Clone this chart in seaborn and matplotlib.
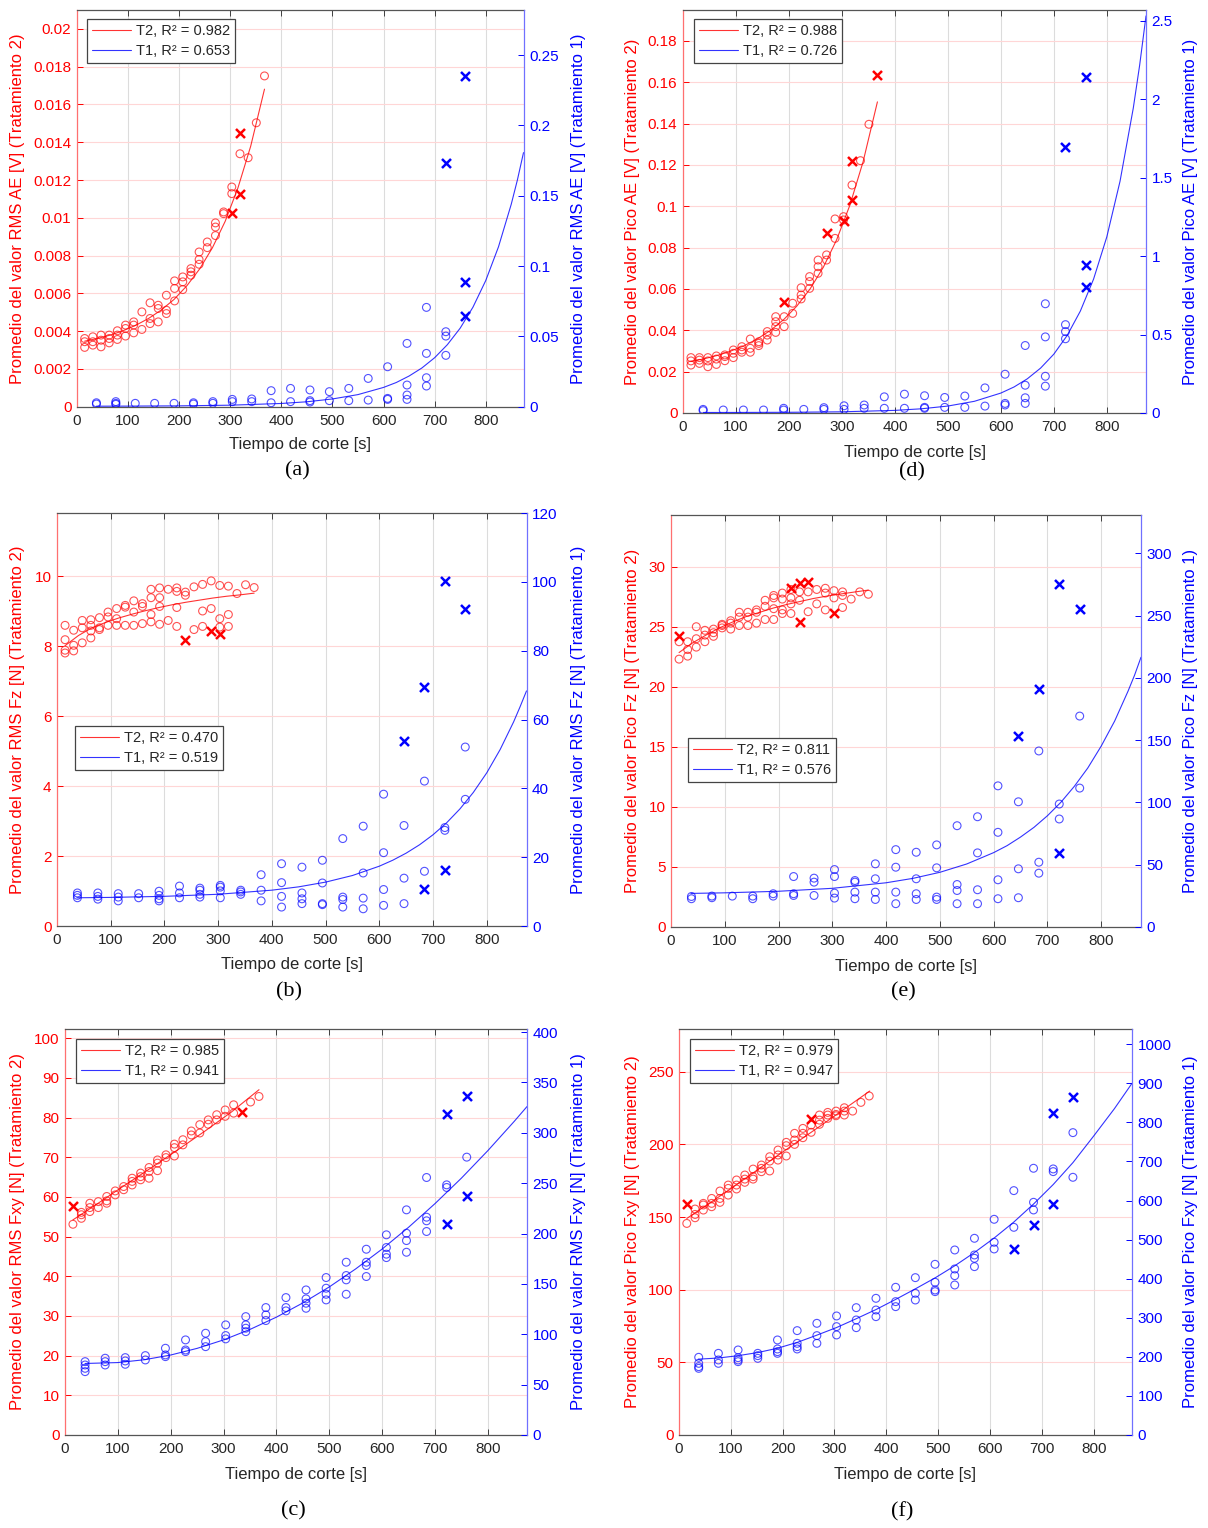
import numpy as np
import pandas as pd
import matplotlib
matplotlib.use("Agg")
import matplotlib.pyplot as plt
from matplotlib.ticker import FuncFormatter
import seaborn as sns

sns.set_style("white")
plt.rcParams["font.family"] = ["Liberation Sans", "DejaVu Sans"]

W, H = 1208, 1528
RED = "#ff0000"
BLUE = "#0000ff"
GRAY = "#404040"

# ---------------- sampling times ----------------
T2_TIMES = [15, 31, 47, 63, 79, 95, 111, 127, 143, 159, 175, 191, 207, 223, 239, 255, 271, 287, 303, 319, 335, 351, 367]
T1_TIMES = [38, 76, 114, 152, 190, 228, 266, 304, 342, 380, 418, 456, 494, 532, 570, 608, 646, 684, 722, 760]

# ---------------- (a) RMS AE ----------------
a_t2_vals = [[0.00361, 0.00344, 0.00314], [0.0037, 0.00344, 0.00326], [0.00379, 0.00352, 0.00317],
             [0.00379, 0.00361, 0.00338], [0.00402, 0.00379, 0.00356], [0.00432, 0.00414, 0.00374],
             [0.00449, 0.00432, 0.00391], [0.00502, 0.00409], [0.0055, 0.00467, 0.0044],
             [0.00537, 0.0052, 0.00449], [0.0059, 0.00511, 0.00493], [0.00666, 0.00626, 0.0056],
             [0.00687, 0.00661, 0.0062], [0.00731, 0.00714, 0.00696], [0.00819, 0.00779, 0.00754],
             [0.00872, 0.00842], [0.00973, 0.00951, 0.00906], [0.01031, 0.01022], [0.01163, 0.01128],
             [0.01339], [0.01318], [0.01503], [0.01751]]
a_t2_out_t = [303, 319, 319]
a_t2_out_v = [0.01025, 0.01448, 0.01128]
a_t1_vals = [[0.0028, 0.0019], [0.0036, 0.0024, 0.0017], [0.0024], [0.0024], [0.0024], [0.0028, 0.0019],
             [0.0036, 0.0024], [0.0052, 0.0036], [0.0055, 0.0036], [0.0114, 0.0028], [0.013, 0.0036],
             [0.0119, 0.0043, 0.0033], [0.0107, 0.0043], [0.013, 0.0043], [0.0201, 0.0047],
             [0.0284, 0.0059, 0.0052], [0.045, 0.0154, 0.0083, 0.0052], [0.0706, 0.0379, 0.0206, 0.0147],
             [0.0533, 0.0502, 0.0365], []]
a_t1_out_t = [722, 760, 760, 760]
a_t1_out_v = [0.1735, 0.2353, 0.0889, 0.0645]
a_t2_fit_t = [15, 40, 65, 90, 115, 140, 165, 190, 215, 240, 265, 290, 315, 340, 367]
a_t2_fit_v = [0.00347, 0.00361, 0.00379, 0.00402, 0.00431, 0.00467, 0.00512, 0.00568, 0.00640,
              0.00729, 0.00841, 0.00981, 0.01158, 0.01379, 0.01681]
a_t1_fit_t = [38, 100, 200, 300, 400, 450, 500, 550, 600, 625, 650, 675, 700, 725, 750, 775, 800,
              825, 850, 862, 874]
a_t1_fit_v = [0.00036, 0.00042, 0.0006, 0.00107, 0.0023, 0.0035, 0.0055, 0.0086, 0.0137, 0.0172,
              0.0218, 0.0275, 0.0348, 0.0441, 0.0558, 0.0707, 0.0896, 0.1136, 0.1439, 0.1611, 0.1806]

# ---------------- (d) Pico AE ----------------
d_t2_vals = [[0.0268, 0.0252, 0.0232], [0.0268, 0.0256, 0.024], [0.0268, 0.0252, 0.0224],
             [0.0276, 0.0261, 0.0235], [0.0281, 0.0273, 0.0253], [0.0305, 0.0289, 0.0268],
             [0.0321, 0.0305, 0.0294], [0.0358, 0.0313, 0.0294], [0.0345, 0.0337, 0.0326],
             [0.0394, 0.0377, 0.0353], [0.0466, 0.0442, 0.0418, 0.039], [0.0466, 0.0418],
             [0.0531, 0.0482], [0.0606, 0.0571, 0.0552], [0.066, 0.0636, 0.0603],
             [0.074, 0.0708, 0.0676], [0.0765, 0.074], [0.0939, 0.0845], [0.095, 0.0934],
             [0.1103], [0.1221], [0.1397], []]
d_t2_out_t = [191, 271, 303, 319, 319, 367]
d_t2_out_v = [0.0539, 0.0869, 0.0929, 0.1031, 0.1221, 0.1636]
d_t1_vals = [[0.023, 0.015], [0.019], [0.019], [0.019], [0.03, 0.019], [0.023], [0.034, 0.023],
             [0.046, 0.023], [0.051, 0.03], [0.103, 0.03], [0.12, 0.03], [0.11, 0.036, 0.03],
             [0.099, 0.036], [0.108, 0.036], [0.16, 0.044], [0.247, 0.061, 0.051],
             [0.43, 0.177, 0.097, 0.061], [0.696, 0.485, 0.234, 0.171], [0.563, 0.519, 0.473], []]
d_t1_out_t = [722, 760, 760, 760]
d_t1_out_v = [1.696, 2.14, 0.941, 0.80]
d_t2_fit_t = [15, 40, 65, 90, 115, 140, 165, 190, 215, 240, 265, 290, 315, 340, 367]
d_t2_fit_v = [0.02495, 0.02624, 0.02787, 0.02993, 0.03253, 0.03581, 0.03995, 0.04518, 0.05177,
              0.06008, 0.07057, 0.08381, 0.10054, 0.12161, 0.15055]
d_t1_fit_t = [38, 100, 200, 300, 400, 450, 500, 550, 600, 625, 650, 675, 700, 725, 750, 775, 800,
              825, 850, 862, 874]
d_t1_fit_v = [0.0033, 0.0035, 0.0045, 0.0076, 0.0167, 0.0268, 0.0443, 0.0745, 0.127, 0.166, 0.218,
              0.286, 0.375, 0.493, 0.649, 0.853, 1.122, 1.477, 1.943, 2.216, 2.53]

# ---------------- (b) RMS Fz ----------------
b_t2_vals = [[8.59, 8.18, 7.88, 7.8], [8.45, 8.02, 7.86], [8.73, 8.52, 8.09], [8.75, 8.59, 8.43, 8.23],
             [8.81, 8.52, 8.47], [8.97, 8.83, 8.59], [9.07, 8.78, 8.59], [9.16, 9.11, 8.59],
             [9.29, 8.97, 8.59], [9.21, 9.13, 8.64], [9.62, 9.38, 8.9, 8.69], [9.66, 9.38, 9.13, 8.62],
             [9.62, 8.73], [9.66, 9.56, 9.1, 8.56], [9.54, 9.45], [9.69, 8.47], [9.76, 9.0, 8.56],
             [9.86, 9.07], [9.73, 8.78, 8.54], [9.71, 8.9, 8.56], [9.5], [9.75], [9.67]]
b_t2_out_t = [239, 287, 303]
b_t2_out_v = [8.18, 8.43, 8.35]
b_t1_vals = [[9.6, 8.9, 8.2], [9.6, 8.6, 7.8], [9.4, 8.4, 7.3], [9.4, 8.2], [10.1, 8.9, 7.9, 7.3],
             [11.6, 9.6, 8.2], [11.0, 10.4, 9.2, 8.4], [11.8, 11.3, 10.2, 8.2], [10.4, 9.9, 9.2],
             [14.9, 10.4, 7.3], [18.1, 12.6, 8.6, 5.5], [17.1, 9.6, 7.9, 6.5], [19.1, 12.5, 6.5, 6.2],
             [25.4, 8.4, 7.7, 5.5], [29.0, 15.4, 8.1, 5.0], [38.3, 21.3, 10.6, 6.0], [29.2, 13.9, 6.5],
             [42.1, 15.9], [28.6, 27.8], [52.0, 36.8]]
b_t1_out_t = [646, 684, 684, 722, 722, 760]
b_t1_out_v = [53.7, 69.4, 10.7, 100.1, 16.4, 92.2]
b_t2_fit_t = [15, 40, 65, 90, 115, 140, 165, 190, 215, 240, 265, 290, 315, 340, 367]
b_t2_fit_v = [8.01, 8.30, 8.52, 8.67, 8.80, 8.91, 9.01, 9.10, 9.18, 9.25, 9.31, 9.37, 9.42, 9.46, 9.51]
b_t1_fit_t = [37, 100, 200, 300, 400, 450, 500, 550, 600, 625, 650, 675, 700, 725, 750, 775, 800,
              825, 850, 862, 874]
b_t1_fit_v = [8.20, 8.31, 8.62, 9.22, 10.41, 11.38, 12.75, 14.67, 17.38, 19.11, 21.17, 23.61, 26.51,
              29.94, 34.0, 38.81, 44.5, 51.29, 59.3, 63.68, 68.3]

# ---------------- (e) Pico Fz ----------------
e_t2_vals = [[23.75, 22.3], [23.75, 23.1, 22.55], [25.0, 24.0, 23.3], [24.7, 24.3, 23.75],
             [24.8, 24.5, 24.2], [25.2, 25.1, 24.9], [25.5, 25.3, 24.8], [26.2, 25.8, 25.1],
             [26.2, 25.8, 25.1], [26.4, 26.2, 25.3], [27.2, 26.7, 25.6], [27.6, 27.4, 26.5, 25.6],
             [27.8, 27.3, 26.4, 26.1], [28.1, 27.4, 26.9, 26.1], [27.9, 27.2], [27.9, 26.25],
             [28.1, 26.9], [28.2, 27.8, 26.4], [28.0, 27.4], [27.9, 27.6, 26.6], [27.3], [27.9], [27.7]]
e_t2_out_t = [15, 223, 239, 239, 255, 303]
e_t2_out_v = [24.2, 28.2, 28.6, 25.4, 28.7, 26.1]
e_t1_vals = [[24.5, 22.7], [24.8, 23.5], [24.8], [24.8, 22.7], [26.7, 24.8], [40.5, 26.7, 25.3],
             [39.2, 36.0, 25.3], [46.1, 40.5, 27.2, 23.2], [37.3, 36.0, 28.0, 22.7],
             [50.7, 38.7, 28.0, 22.1], [62.1, 48.0, 28.0, 18.7], [60.0, 38.7, 26.7, 22.1],
             [65.9, 47.5, 24.0, 22.1], [81.3, 34.1, 29.3, 18.7], [88.5, 59.5, 29.9, 18.7],
             [113.3, 76.0, 37.9, 22.7], [100.5, 46.7, 23.5], [141.3, 52.0, 43.2], [98.7, 86.7],
             [169.3, 111.5]]
e_t1_out_t = [646, 684, 722, 722, 760]
e_t1_out_v = [153.3, 191.2, 275.2, 59.2, 255.5]
e_t2_fit_t = [15, 40, 65, 90, 115, 140, 165, 190, 215, 240, 265, 290, 315, 340, 367]
e_t2_fit_v = [22.85, 23.65, 24.3, 24.9, 25.4, 25.85, 26.2, 26.55, 26.85, 27.1, 27.35, 27.55, 27.72, 27.88, 28.05]
e_t1_fit_t = [37, 100, 200, 300, 400, 450, 500, 550, 600, 625, 650, 675, 700, 725, 750, 775, 800,
              825, 850, 862, 874]
e_t1_fit_v = [26.96, 27.43, 28.68, 31.05, 35.5, 39.05, 43.9, 50.6, 59.7, 65.3, 72.2, 80.0, 89.3,
              100.1, 112.9, 127.6, 145.2, 165.3, 189.4, 202.1, 216.5]

# ---------------- (c) RMS Fxy ----------------
c_t2_vals = [[53.1], [56.1, 55.5, 54.6], [58.4, 57.3, 56.3], [58.8, 57.3], [60.1, 59.0, 58.4],
             [61.5, 60.5], [62.6, 61.8], [64.7, 63.9, 63.0], [66.0, 65.1, 64.3], [67.4, 66.4, 64.7],
             [69.3, 68.5, 66.6], [70.6, 69.9], [73.3, 72.4, 70.3], [74.4, 73.1], [76.6, 75.6],
             [78.2, 76.1], [79.4, 78.3], [80.7, 79.4], [81.9, 80.3], [83.2, 81.1], [], [83.9], [85.3]]
c_t2_out_t = [15, 335]
c_t2_out_v = [57.7, 81.3]
c_t1_vals = [[72.8, 69.5, 66.2, 62.9], [76.2, 72.8, 69.5], [76.8, 73.5, 70.2], [78.8, 74.5],
             [86.1, 79.5, 77.8], [94.4, 84.4, 82.8], [101.0, 92.7, 87.7], [109.3, 98.7, 95.4],
             [117.5, 109.3, 106.0, 102.6], [126.5, 119.2, 113.6], [136.4, 126.5, 123.2],
             [144.0, 135.1, 130.8, 125.8], [156.3, 145.7, 139.7, 134.1], [171.5, 158.3, 154.0, 139.7],
             [184.4, 171.5, 168.2, 157.3], [198.7, 186.1, 179.5, 176.1], [223.5, 200.3, 193.0, 181.4],
             [255.6, 216.2, 212.6, 202.0], [248.3, 245.7], [275.8]]
c_t1_out_t = [722, 722, 760, 760]
c_t1_out_v = [318.8, 209.6, 336.1, 237.4]
c_t2_fit_t = [15, 65, 115, 165, 215, 265, 315, 367]
c_t2_fit_v = [54.2, 58.6, 63.1, 67.5, 72.0, 76.6, 81.4, 87.0]
c_t1_fit_t = [38, 100, 150, 200, 250, 300, 350, 400, 450, 500, 550, 600, 650, 700, 750, 800, 850, 874]
c_t1_fit_v = [71.0, 71.9, 74.7, 79.4, 86.0, 94.4, 104.8, 117.0, 131.1, 147.0, 164.9, 184.6, 206.2,
              229.7, 255.0, 282.3, 311.4, 326.0]

# ---------------- (f) Pico Fxy ----------------
f_t2_vals = [[145.6], [155.5, 151.8, 149.5], [159.4, 158.3, 154.8], [162.8, 159.4, 157.1],
             [167.9, 162.8, 160.1], [172.0, 169.7, 165.1], [175.5, 172.0, 169.3], [178.9, 176.1, 173.9],
             [183.0, 177.8, 176.1], [185.8, 183.5, 181.2], [191.5, 188.5, 181.7], [196.1, 192.7, 189.2],
             [201.4, 199.1, 192.0], [207.6, 203.0, 200.0], [211.0, 207.6, 204.6], [213.3, 208.3],
             [220.2, 216.7, 213.8], [222.0, 220.2, 217.9], [222.9, 220.6, 219.7], [225.2, 222.9, 220.2],
             [222.9], [228.9], [233.3]]
f_t2_out_t = [15, 255]
f_t2_out_v = [158.7, 217.2]
f_t1_vals = [[198.8, 183.4, 174.9, 170.6], [209.0, 192.0, 183.4], [217.6, 197.9, 192.0, 187.7],
             [209.0, 203.1, 196.2], [243.2, 220.1, 213.3, 209.0], [267.1, 234.6, 226.1, 220.1],
             [285.8, 254.3, 234.6], [304.6, 277.3, 256.0], [325.9, 294.4, 274.7], [349.8, 319.9, 302.9],
             [378.0, 341.3, 328.5], [402.7, 362.6, 345.5], [436.8, 390.8, 371.1, 366.9],
             [473.5, 424.9, 407.8, 383.9], [503.4, 460.7, 452.2, 430.9], [552.0, 493.2, 476.1],
             [625.4, 531.5], [682.6, 595.5, 575.9], [680.9, 674.0], [773.8, 659.5]]
f_t1_out_t = [646, 684, 722, 722, 760]
f_t1_out_v = [475.2, 537.5, 825.0, 590.4, 864.3]
f_t2_fit_t = [15, 100, 191, 280, 368]
f_t2_fit_v = [149.0, 169.5, 192.5, 214.5, 236.7]
f_t1_fit_t = [37, 76, 114, 152, 190, 228, 265, 304, 341, 380, 418, 456, 494, 532, 570, 608, 646,
              684, 722, 760, 800, 840, 874]
f_t1_fit_v = [194, 197, 203, 211, 222, 237, 255, 275, 297, 321, 347, 374, 402, 433, 467, 504, 545,
              591, 641, 697, 765, 835, 900]

# R^2 legend values
R2_T2 = {"a": "0.982", "d": "0.988", "b": "0.470", "e": "0.811", "c": "0.985", "f": "0.979"}
R2_T1 = {"a": "0.653", "d": "0.726", "b": "0.519", "e": "0.576", "c": "0.941", "f": "0.947"}

XLIM = 874


def long_df(times, vals):
    rows = [(t, v) for t, vs in zip(times, vals) for v in vs]
    return pd.DataFrame(rows, columns=["t", "v"])


def fx(px):
    return px / W


def fy(py):
    return 1 - py / H


fig = plt.figure(figsize=(W / 100, H / 100), dpi=100)
fig.patch.set_facecolor("white")

fmt = FuncFormatter(lambda v, p: "%g" % round(v, 6))


def panel(key, box, t2_vals, t2_ot, t2_ov, t2_ft, t2_fv, t1_vals, t1_ot, t1_ov, t1_ft, t1_fv,
          ylim_l, yt_l, ylim_r, yt_r, qty, leg_xy, ylab_x, xlab_y, cap_y):
    l, r, t, b = box
    ax = fig.add_axes([fx(l), fy(b), (r - l) / W, (b - t) / H])
    ax2 = ax.twinx()

    df2 = long_df(T2_TIMES, t2_vals)
    df1 = long_df(T1_TIMES, t1_vals)

    sns.scatterplot(data=df2, x="t", y="v", ax=ax, marker="o", s=32, facecolor="none",
                    edgecolor=RED, linewidth=0.8, alpha=0.68, legend=False)
    sns.scatterplot(x=t2_ot, y=t2_ov, ax=ax, marker="x", s=42, color=RED, linewidth=1.8, legend=False)
    sns.lineplot(x=t2_ft, y=t2_fv, ax=ax, color=RED, lw=0.8, alpha=0.8, legend=False,
                 errorbar=None)
    line_red = ax.get_lines()[-1]

    sns.scatterplot(data=df1, x="t", y="v", ax=ax2, marker="o", s=32, facecolor="none",
                    edgecolor=BLUE, linewidth=0.8, alpha=0.68, legend=False)
    sns.scatterplot(x=t1_ot, y=t1_ov, ax=ax2, marker="x", s=42, color=BLUE, linewidth=1.8, legend=False)
    sns.lineplot(x=t1_ft, y=t1_fv, ax=ax2, color=BLUE, lw=0.8, alpha=0.8, legend=False, errorbar=None)
    line_blue = ax2.get_lines()[-1]

    ax.set_xlim(0, XLIM)
    ax.set_ylim(*ylim_l)
    ax2.set_ylim(*ylim_r)
    ax.set_xticks(range(0, 900, 100))
    ax.set_yticks(yt_l)
    ax2.set_yticks(yt_r)
    ax.yaxis.set_major_formatter(fmt)
    ax2.yaxis.set_major_formatter(fmt)
    for a in (ax, ax2):
        a.set_xlabel("")
        a.set_ylabel("")

    ax.grid(True, axis="x", color="#dcdcdc", lw=0.8)
    ax.grid(True, axis="y", color="#ffd6d6", lw=0.8)
    ax.set_axisbelow(True)

    ax.tick_params(axis="x", direction="in", top=True, bottom=True, length=4, width=0.7,
                   color=GRAY, labelcolor="#262626", labelsize=11, pad=5)
    ax.tick_params(axis="y", direction="in", length=4, width=0.7, color=RED,
                   labelcolor=RED, labelsize=11, pad=4)
    ax2.tick_params(axis="y", direction="in", length=4, width=0.7, color=BLUE,
                    labelcolor=BLUE, labelsize=11, pad=4)

    ax.spines["right"].set_visible(False)
    ax.spines["left"].set_color("#ff7070")
    ax.spines["top"].set_color("#555555")
    ax.spines["bottom"].set_color("#555555")
    for s in ("left", "top", "bottom"):
        ax2.spines[s].set_visible(False)
    ax2.spines["right"].set_color("#7070ff")
    for a in (ax, ax2):
        for s in a.spines.values():
            s.set_linewidth(0.9)

    leg = ax2.legend([line_red, line_blue],
                     ["T2, R\u00b2 = " + R2_T2[key], "T1, R\u00b2 = " + R2_T1[key]],
                     loc="upper left", bbox_to_anchor=(fx(leg_xy[0]), fy(leg_xy[1])),
                     bbox_transform=fig.transFigure, borderaxespad=0, fancybox=False,
                     framealpha=1, edgecolor="#444444", fontsize=10.5, handlelength=2.7,
                     handletextpad=0.3, borderpad=0.35, labelspacing=0.4)
    leg.get_frame().set_linewidth(0.9)

    yc = (t + b) / 2
    fig.text(fx(ylab_x[0]), fy(yc), "Promedio del valor " + qty + " (Tratamiento 2)",
             rotation=90, ha="center", va="center", color=RED, fontsize=12)
    fig.text(fx(ylab_x[1]), fy(yc), "Promedio del valor " + qty + " (Tratamiento 1)",
             rotation=90, ha="center", va="center", color=BLUE, fontsize=12)
    xc = (l + r) / 2
    fig.text(fx(xc), fy(xlab_y), "Tiempo de corte [s]", ha="center", va="center",
             color="#262626", fontsize=12)
    fig.text(fx(xc - 3), fy(cap_y), "(" + key + ")", ha="center", va="center",
             color="black", fontsize=16, family=["Liberation Serif", "DejaVu Serif"])


panel("a", (77, 523.5, 10, 406.7), a_t2_vals, a_t2_out_t, a_t2_out_v, a_t2_fit_t, a_t2_fit_v,
      a_t1_vals, a_t1_out_t, a_t1_out_v, a_t1_fit_t, a_t1_fit_v,
      (0, 0.021), np.round(np.arange(0, 0.0201, 0.002), 4), (0, 0.282), [0, 0.05, 0.1, 0.15, 0.2, 0.25],
      "RMS AE [V]", (87, 19), (18, 578), 444, 471)

panel("d", (683, 1146, 10, 413), d_t2_vals, d_t2_out_t, d_t2_out_v, d_t2_fit_t, d_t2_fit_v,
      d_t1_vals, d_t1_out_t, d_t1_out_v, d_t1_fit_t, d_t1_fit_v,
      (0, 0.195), np.round(np.arange(0, 0.181, 0.02), 3), (0, 2.568), [0, 0.5, 1, 1.5, 2, 2.5],
      "Pico AE [V]", (694, 19), (632, 1191), 453, 472)

panel("b", (57, 526.5, 513, 926), b_t2_vals, b_t2_out_t, b_t2_out_v, b_t2_fit_t, b_t2_fit_v,
      b_t1_vals, b_t1_out_t, b_t1_out_v, b_t1_fit_t, b_t1_fit_v,
      (0, 11.8), [0, 2, 4, 6, 8, 10], (0, 120), [0, 20, 40, 60, 80, 100, 120],
      "RMS Fz [N]", (75, 726), (18, 578), 964, 992)

panel("e", (671, 1141, 515, 927), e_t2_vals, e_t2_out_t, e_t2_out_v, e_t2_fit_t, e_t2_fit_v,
      e_t1_vals, e_t1_out_t, e_t1_out_v, e_t1_fit_t, e_t1_fit_v,
      (0, 34.3), [0, 5, 10, 15, 20, 25, 30], (0, 330.7), [0, 50, 100, 150, 200, 250, 300],
      "Pico Fz [N]", (688, 738), (632, 1191), 967, 992)

panel("c", (65, 527, 1029, 1435), c_t2_vals, c_t2_out_t, c_t2_out_v, c_t2_fit_t, c_t2_fit_v,
      c_t1_vals, c_t1_out_t, c_t1_out_v, c_t1_fit_t, c_t1_fit_v,
      (0, 102.3), list(range(0, 101, 10)), (0, 403), list(range(0, 401, 50)),
      "RMS Fxy [N]", (76, 1039), (18, 578), 1474, 1511)

panel("f", (679, 1132, 1029, 1435), f_t2_vals, f_t2_out_t, f_t2_out_v, f_t2_fit_t, f_t2_fit_v,
      f_t1_vals, f_t1_out_t, f_t1_out_v, f_t1_fit_t, f_t1_fit_v,
      (0, 279.4), [0, 50, 100, 150, 200, 250], (0, 1039), list(range(0, 1001, 100)),
      "Pico Fxy [N]", (690, 1039), (632, 1191), 1474, 1512)

fig.savefig("out.png", dpi=100)
